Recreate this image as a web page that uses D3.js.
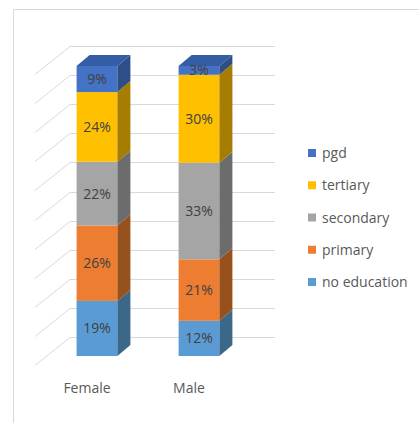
<!DOCTYPE html>
<html>
<head>
<meta charset="utf-8">
<script src="https://cdn.jsdelivr.net/npm/d3@7"></script>
<style>
html,body{margin:0;padding:0;background:#fff;}
svg{display:block;}
text{font-family:"Open Sans",sans-serif;}
</style>
</head>
<body>
<svg id="c" width="419" height="423"></svg>
<script>
const categories = ["Female", "Male"];
const seriesNames = ["no education", "primary", "secondary", "tertiary", "pgd"];
const femaleValues = [19, 26, 22, 24, 9];
const maleValues = [12, 21, 33, 30, 3];
const gridTicks = [0, 0.1, 0.2, 0.3, 0.4, 0.5, 0.6, 0.7, 0.8, 0.9, 1];

const frontColors = ["#5B9BD5", "#ED7D31", "#A5A5A5", "#FFC000", "#4472C4"];
const sideColors  = ["#3B6788", "#96511C", "#6C6C6C", "#A67D00", "#2D4E86"];
const topColors   = ["#4A80B0", "#C4672A", "#8A8A8A", "#D4A000", "#355DA6"];

const rows = categories.map((c, i) => {
  const vals = i === 0 ? femaleValues : maleValues;
  const r = {cat: c};
  seriesNames.forEach((s, j) => r[s] = vals[j]);
  return r;
});

const stack = d3.stack().keys(seriesNames).offset(d3.stackOffsetExpand);
const series = stack(rows);

const svg = d3.select("#c");

// chart border
svg.append("path").attr("d", "M13.5,423V9.5H419").attr("fill", "none").attr("stroke", "#d9d9d9").attr("stroke-width", 1);

const x = d3.scaleBand().domain(categories).range([46, 250]).paddingInner(0.6).paddingOuter(0.3);
const yFront = d3.scaleLinear().domain([0, 1]).range([356, 66]);
const yWall = d3.scaleLinear().domain([0, 1]).range([337, 46]);

// walls / gridlines
const wx0 = 70, wx1 = 275, wdx = -35, wdy = 28;
const g = svg.append("g").attr("stroke", "#d9d9d9").attr("stroke-width", 1).attr("fill", "none");
gridTicks.forEach(t => {
  const yy = Math.round(yWall(t)) + 0.5;
  g.append("line").attr("x1", wx0).attr("x2", wx1).attr("y1", yy).attr("y2", yy);
  g.append("line").attr("x1", wx0).attr("y1", yy).attr("x2", wx0 + wdx).attr("y2", yy + wdy);
});

// bars
const dx = 13, dy = -11;
const bw = x.bandwidth();
categories.forEach((c, ci) => {
  const x0 = x(c), x1 = x0 + bw;
  series.forEach((s, si) => {
    const d = s[ci];
    const yb = yFront(d[0]), yt = yFront(d[1]);
    // front
    svg.append("rect").attr("x", x0).attr("y", yt).attr("width", bw).attr("height", yb - yt)
      .attr("fill", frontColors[si]);
    // side
    svg.append("polygon")
      .attr("points", [[x1, yb], [x1, yt], [x1 + dx, yt + dy], [x1 + dx, yb + dy]].map(p => p.join(",")).join(" "))
      .attr("fill", sideColors[si]);
    if (si === series.length - 1) {
      svg.append("polygon")
        .attr("points", [[x0, yt], [x1, yt], [x1 + dx, yt + dy], [x0 + dx, yt + dy]].map(p => p.join(",")).join(" "))
        .attr("fill", topColors[si]);
    }
  });
  // labels
  series.forEach((s, si) => {
    const d = s[ci];
    const raw = (ci === 0 ? femaleValues : maleValues)[si];
    svg.append("text")
      .attr("x", x0 + bw / 2)
      .attr("y", (yFront(d[0]) + yFront(d[1])) / 2)
      .attr("dy", "0.36em")
      .attr("text-anchor", "middle")
      .attr("font-size", 14)
      .attr("fill", "#404040")
      .text(raw + "%");
  });
  svg.append("text")
    .attr("x", x0 + bw / 2 - 10)
    .attr("y", 393)
    .attr("text-anchor", "middle")
    .attr("font-size", 14)
    .attr("fill", "#595959")
    .text(c);
});

// legend
const legendOrder = seriesNames.map((s, i) => i).reverse();
const ly = d3.scalePoint().domain(legendOrder).range([153, 282]);
legendOrder.forEach(i => {
  const yy = ly(i);
  svg.append("rect").attr("x", 308).attr("y", yy - 4).attr("width", 8).attr("height", 8).attr("fill", frontColors[i]);
  svg.append("text").attr("x", 322).attr("y", yy).attr("dy", "0.36em")
    .attr("font-size", 14).attr("fill", "#595959").text(seriesNames[i]);
});
</script>
</body>
</html>
